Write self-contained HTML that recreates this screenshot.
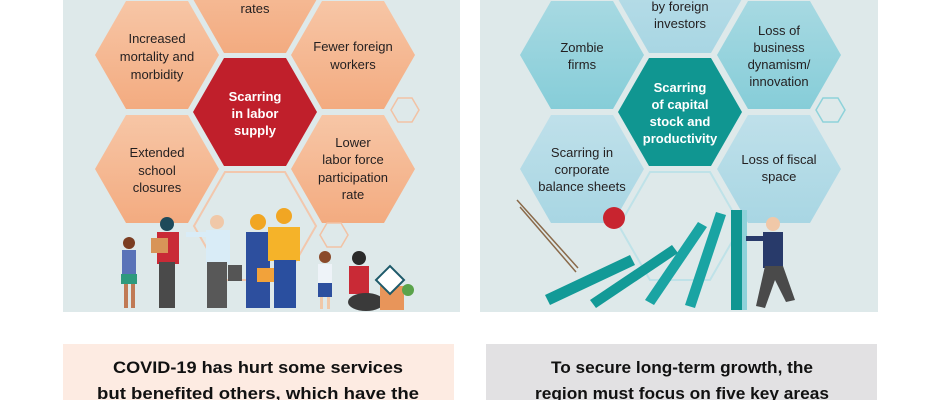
<!DOCTYPE html>
<html><head><meta charset="utf-8"><style>
html,body{margin:0;padding:0;background:#fff;width:940px;height:400px;overflow:hidden}
svg text{font-family:"Liberation Sans",sans-serif}
</style></head><body>
<svg width="940" height="400" viewBox="0 0 940 400" xmlns="http://www.w3.org/2000/svg">
<defs>
<linearGradient id="pe" x1="0" y1="0" x2="0" y2="1"><stop offset="0" stop-color="#f7c6a6"/><stop offset="1" stop-color="#f3ab80"/></linearGradient>
<linearGradient id="bl" x1="0" y1="0" x2="0" y2="1"><stop offset="0" stop-color="#a7d9e2"/><stop offset="1" stop-color="#86cdd8"/></linearGradient>
<linearGradient id="bl2" x1="0" y1="0" x2="0" y2="1"><stop offset="0" stop-color="#bfe0ea"/><stop offset="1" stop-color="#a8d6e3"/></linearGradient>
</defs>
<rect x="63" y="0" width="397" height="312" fill="#dee9ea"/>
<rect x="480" y="0" width="398" height="312" fill="#dee9ea"/>
<g>
<polygon points="193,-1 224,-55 286,-55 317,-1 286,53 224,53" fill="url(#pe)"/>
<polygon points="95,55 126,1 188,1 219,55 188,109 126,109" fill="url(#pe)"/>
<polygon points="291,55 322,1 384,1 415,55 384,109 322,109" fill="url(#pe)"/>
<polygon points="95,169 126,115 188,115 219,169 188,223 126,223" fill="url(#pe)"/>
<polygon points="291,169 322,115 384,115 415,169 384,223 322,223" fill="url(#pe)"/>
<polygon points="193,112 224,58 286,58 317,112 286,166 224,166" fill="#c01f2b"/>
<polygon points="194,226 225,172 285,172 316,226 285,280 225,280" fill="none" stroke="#f2c7ad" stroke-width="2"/>
<polygon points="391,110 398,98 412,98 419,110 412,122 398,122" fill="none" stroke="#f2c2a4" stroke-width="1.5"/>
<polygon points="320,235 327,223 341,223 348,235 341,247 327,247" fill="none" stroke="#f2c2a4" stroke-width="1.5"/>
</g>
<g font-size="13" fill="#231f20" text-anchor="middle">
<text x="255" y="13">rates</text>
<text x="157" y="43">Increased</text><text x="157" y="61">mortality and</text><text x="157" y="79">morbidity</text>
<text x="353" y="51">Fewer foreign</text><text x="353" y="69">workers</text>
<text x="157" y="157">Extended</text><text x="157" y="175">school</text><text x="157" y="192">closures</text>
<text x="353" y="147">Lower</text><text x="353" y="164">labor force</text><text x="353" y="182">participation</text><text x="353" y="199">rate</text>
<g font-weight="bold" fill="#fff"><text x="255" y="101">Scarring</text><text x="255" y="118">in labor</text><text x="255" y="135">supply</text></g>
</g>
<g>
<rect x="122" y="250" width="14" height="26" fill="#5a73b8"/><rect x="121" y="274" width="16" height="10" fill="#2e9a7d"/><rect x="124" y="284" width="4" height="24" fill="#c07a55"/><rect x="131" y="284" width="4" height="24" fill="#c07a55"/><circle cx="129" cy="243" r="6" fill="#7b3d22"/>
<rect x="157" y="232" width="22" height="32" fill="#c92a36"/><rect x="159" y="262" width="16" height="46" fill="#4a4a4a"/><circle cx="167" cy="224" r="7" fill="#1e4a5a"/><rect x="151" y="238" width="17" height="15" fill="#d89458"/>
<rect x="206" y="230" width="24" height="34" fill="#d9ecf7"/><rect x="207" y="262" width="20" height="46" fill="#585858"/><circle cx="217" cy="222" r="7" fill="#f0c8a8"/><rect x="186" y="232" width="22" height="5" fill="#d9ecf7"/><rect x="228" y="265" width="14" height="16" fill="#555"/>
<rect x="246" y="232" width="24" height="76" fill="#2d4f9e"/><circle cx="258" cy="222" r="8" fill="#f1a623"/><rect x="257" y="268" width="17" height="14" fill="#f2a23a"/>
<rect x="268" y="227" width="32" height="34" fill="#f5b329"/><rect x="274" y="260" width="22" height="48" fill="#2a4f9f"/><circle cx="284" cy="216" r="8" fill="#f1a623"/>
<rect x="318" y="264" width="14" height="20" fill="#eef3f8"/><rect x="318" y="283" width="14" height="14" fill="#2d4f9e"/><circle cx="325" cy="257" r="6" fill="#8a4a2a"/><rect x="320" y="297" width="3" height="12" fill="#f0c8a8"/><rect x="327" y="297" width="3" height="12" fill="#f0c8a8"/>
<rect x="349" y="266" width="20" height="28" fill="#c92a36"/><ellipse cx="366" cy="302" rx="18" ry="9" fill="#3a3a3a"/><circle cx="359" cy="258" r="7" fill="#2a2a2a"/>
<rect x="380" y="286" width="24" height="24" fill="#e8955a"/><polygon points="376,280 390,266 404,280 390,294" fill="#fff" stroke="#1e5a6a" stroke-width="2"/><circle cx="408" cy="290" r="6" fill="#5aa34a"/>
</g>
<g>
<polygon points="618,-1 649,-55 711,-55 742,-1 711,53 649,53" fill="url(#bl2)"/>
<polygon points="520,55 551,1 613,1 644,55 613,109 551,109" fill="url(#bl)"/>
<polygon points="717,55 748,1 810,1 841,55 810,109 748,109" fill="url(#bl)"/>
<polygon points="520,169 551,115 613,115 644,169 613,223 551,223" fill="url(#bl2)"/>
<polygon points="717,169 748,115 810,115 841,169 810,223 748,223" fill="url(#bl2)"/>
<polygon points="618,112 649,58 711,58 742,112 711,166 649,166" fill="#109691"/>
<polygon points="619,226 650,172 710,172 741,226 710,280 650,280" fill="none" stroke="#bfe2e8" stroke-width="2"/>
<polygon points="816,110 823,98 838,98 845,110 838,122 823,122" fill="none" stroke="#8ed2da" stroke-width="1.5"/>
</g>
<g font-size="13" fill="#231f20" text-anchor="middle">
<text x="680" y="11">by foreign</text><text x="680" y="28">investors</text>
<text x="582" y="52">Zombie</text><text x="582" y="69">firms</text>
<text x="779" y="35">Loss of</text><text x="779" y="52">business</text><text x="779" y="69">dynamism/</text><text x="779" y="86">innovation</text>
<text x="582" y="157">Scarring in</text><text x="582" y="174">corporate</text><text x="582" y="191">balance sheets</text>
<text x="779" y="164">Loss of fiscal</text><text x="779" y="181">space</text>
<g font-weight="bold" fill="#fff"><text x="680" y="92">Scarring</text><text x="680" y="109">of capital</text><text x="680" y="126">stock and</text><text x="680" y="143">productivity</text></g>
</g>
<g>
<line x1="517" y1="200" x2="578" y2="268" stroke="#8a6a4a" stroke-width="1.5"/><line x1="520" y1="207" x2="576" y2="272" stroke="#8a6a4a" stroke-width="1.5"/>
<circle cx="614" cy="218" r="11" fill="#c8242f"/>
<polygon points="545,295 630,255 635,265 550,305" fill="#129a97"/>
<polygon points="590,300 672,245 678,253 596,308" fill="#129a97"/>
<polygon points="645,300 698,222 707,227 654,305" fill="#1aa4a3"/>
<polygon points="685,305 716,212 726,215 695,308" fill="#1aa4a3"/>
<rect x="731" y="210" width="14" height="100" fill="#109691"/><rect x="742" y="210" width="5" height="100" fill="#8ed2da"/>
<rect x="763" y="232" width="20" height="36" fill="#283a6a"/><circle cx="773" cy="224" r="7" fill="#f0c8a8"/><polygon points="765,266 783,266 795,300 786,302 775,280 765,308 756,306" fill="#4a4a4a"/><rect x="746" y="236" width="18" height="5" fill="#283a6a"/>
</g>
<rect x="63" y="344" width="391" height="56" fill="#fdebe2"/>
<rect x="486" y="344" width="391" height="56" fill="#e2e1e3"/>
<g font-size="17" font-weight="bold" fill="#111" text-anchor="middle">
<text x="258" y="373" textLength="290" lengthAdjust="spacingAndGlyphs">COVID-19 has hurt some services</text>
<text x="258" y="399" textLength="322" lengthAdjust="spacingAndGlyphs">but benefited others, which have the</text>
<text x="682" y="373" textLength="262" lengthAdjust="spacingAndGlyphs">To secure long-term growth, the</text>
<text x="682" y="399" textLength="294" lengthAdjust="spacingAndGlyphs">region must focus on five key areas</text>
</g>
</svg>
</body></html>
